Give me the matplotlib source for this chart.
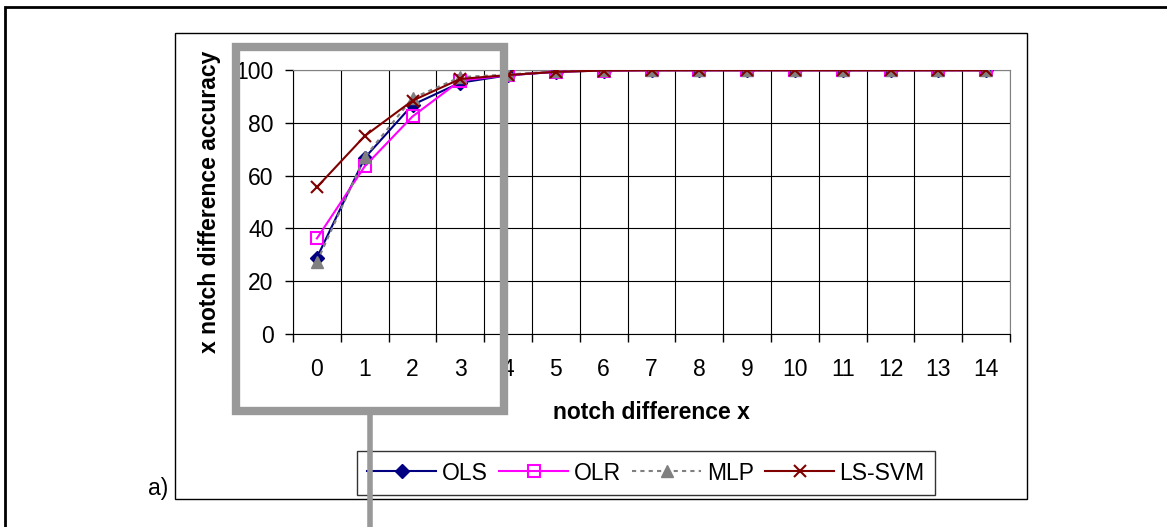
import matplotlib.pyplot as plt
import numpy as np
from matplotlib.patches import Rectangle
from matplotlib.lines import Line2D

plt.rcParams['font.family'] = ['Liberation Sans', 'DejaVu Sans']

# ---- data ----
notch = list(range(15))
ols = [28.9, 66.7, 86.8, 95.2, 98.0, 99.3, 99.8, 99.9, 99.9, 99.9, 99.9, 99.9, 99.9, 99.9, 99.9]
olr = [36.2, 63.5, 82.4, 96.0, 98.0, 99.4, 99.8, 99.9, 99.9, 99.9, 99.9, 99.9, 99.9, 99.9, 99.9]
mlp = [27.3, 67.0, 89.3, 97.3, 98.3, 99.5, 99.9, 99.9, 99.9, 99.9, 99.9, 99.9, 99.9, 99.9, 99.9]
lssvm = [55.6, 75.0, 88.4, 96.6, 98.1, 99.3, 99.8, 99.9, 99.9, 99.9, 99.9, 99.9, 99.9, 99.9, 99.9]
y_ticks = [0, 20, 40, 60, 80, 100]

W, H = 1167, 527
FS = 16.5


def fx(x):
    return x / W


def fy(y):
    return 1 - y / H


fig = plt.figure(figsize=(W / 100, H / 100), dpi=100)

# plot area in pixel terms: x 293..1010, y 70..334
ax = fig.add_axes([fx(293), fy(334), fx(1010) - fx(293), fy(70) - fy(334)])

xs = np.arange(len(notch)) + 0.5
ax.plot(xs, ols, color='#000080', lw=1.5, marker='D', ms=7, mfc='#000080', mec='#000080', label='OLS', zorder=3)
ax.plot(xs, olr, color='#ff00ff', lw=1.5, marker='s', ms=9, mfc='none', mec='#ff00ff', mew=1.5, label='OLR', zorder=3)
ax.plot(xs, mlp, color='#808080', lw=1.5, ls=(0, (2, 2)), marker='^', ms=9, mfc='#808080', mec='#808080', label='MLP', zorder=3)
ax.plot(xs, lssvm, color='#800000', lw=1.5, marker='x', ms=9, mew=1.5, label='LS-SVM', zorder=3)

ax.set_xlim(0, len(notch))
ax.set_ylim(0, 100)
ax.set_xticks(np.arange(len(notch) + 1))
ax.set_xticklabels([])
ax.set_xticks(xs, minor=True)
ax.set_xticklabels([str(n) for n in notch], minor=True)
ax.tick_params(axis='x', which='major', direction='out', length=6, width=1)
ax.tick_params(axis='x', which='minor', length=0, pad=17, labelsize=FS)
ax.set_yticks(y_ticks)
ax.tick_params(axis='y', direction='out', length=6, width=1, pad=8, labelsize=FS)

ax.grid(True, which='major', color='black', lw=0.8)
for s in ['top', 'right']:
    ax.spines[s].set_color('#808080')
for s in ['left', 'bottom']:
    ax.spines[s].set_color('black')

ax.set_xlabel('notch difference x', fontsize=FS, fontweight='bold', labelpad=15)
ax.set_ylabel('x notch difference accuracy', fontsize=FS, fontweight='bold', labelpad=10)

leg = fig.legend(loc='center left', bbox_to_anchor=(fx(357), fy(473)), ncol=4,
                 fontsize=FS, frameon=True, fancybox=False, edgecolor='black',
                 handlelength=3.0, handletextpad=0.25, columnspacing=0.5,
                 borderpad=0.45, borderaxespad=0)
leg.get_frame().set_linewidth(1)

# outer frame (only left/top visible)
fig.add_artist(Rectangle((fx(5), fy(1000)), fx(2000), fy(7) - fy(1000), transform=fig.transFigure,
                         fill=False, ec='black', lw=2))
# chart frame
fig.add_artist(Rectangle((fx(175), fy(499)), fx(1027) - fx(175), fy(33) - fy(499),
                         transform=fig.transFigure, fill=False, ec='black', lw=1))
fig.text(fx(168), fy(488), 'a)', fontsize=FS, ha='right', va='center')

# gray highlight box and pointer line
fig.add_artist(Rectangle((fx(236), fy(411)), fx(504) - fx(236), fy(47) - fy(411),
                         transform=fig.transFigure, fill=False, ec='#999999', lw=6, zorder=10))
fig.add_artist(Line2D([fx(370), fx(370)], [fy(411), fy(530)], transform=fig.transFigure,
                      color='#999999', lw=4, zorder=10))

fig.savefig('out.png', dpi=100)
